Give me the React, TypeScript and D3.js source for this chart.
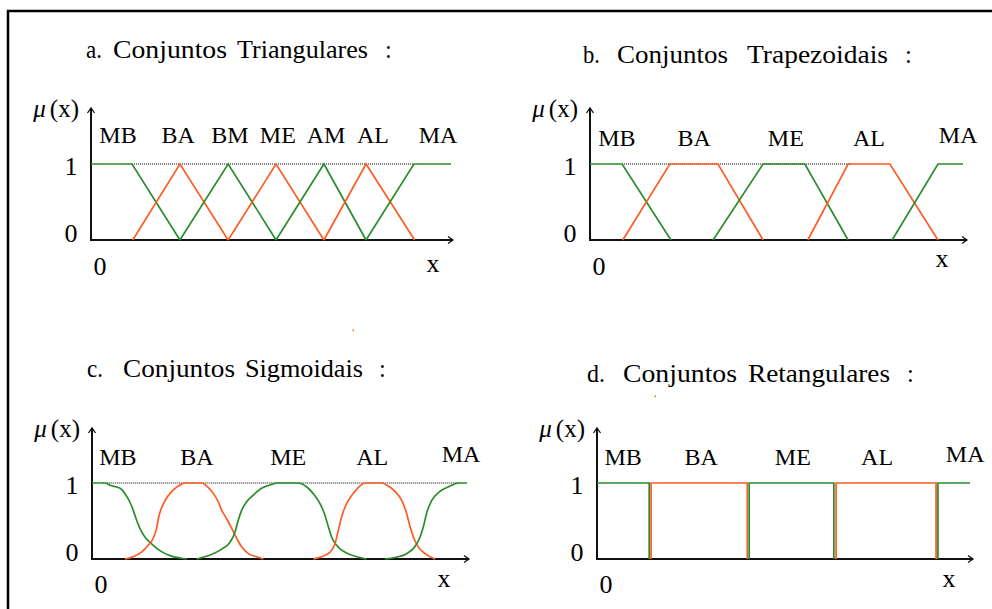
import React from 'react';
import * as d3 from 'd3';

type Pt = [number, number];

// ---------- data (x in 0..100 universe units, y = membership) ----------
const triNames = ['MB', 'BA', 'BM', 'ME', 'AM', 'AL', 'MA'];
const triLabelAt = [7.5, 24.2, 38.6, 51.9, 65.3, 78.3, 96.4];
const triMB: Pt[] = [[0, 1], [11.4, 1], [24.7, 0]];
const triBA: Pt[] = [[11.6, 0], [24.7, 1], [38.1, 0]];
const triBM: Pt[] = [[24.7, 0], [38.1, 1], [51.4, 0]];
const triME: Pt[] = [[38.1, 0], [51.4, 1], [64.7, 0]];
const triAM: Pt[] = [[51.4, 0], [64.7, 1], [76.4, 0]];
const triAL: Pt[] = [[64.7, 0], [76.4, 1], [89.9, 0]];
const triMA: Pt[] = [[76.4, 0], [89.7, 1], [100, 1]];

const trapNames = ['MB', 'BA', 'ME', 'AL', 'MA'];
const trapLabelAt = [7.2, 27.9, 52.5, 74.8, 98.7];
const trapMB: Pt[] = [[0, 1], [8.6, 1], [21.7, 0]];
const trapBA: Pt[] = [[8.8, 0], [21.4, 1], [34.3, 1], [46.4, 0]];
const trapME: Pt[] = [[33.0, 0], [46.4, 1], [57.6, 1], [69.2, 0]];
const trapAL: Pt[] = [[58.4, 0], [69.2, 1], [80.4, 1], [93.3, 0]];
const trapMA: Pt[] = [[81.0, 0], [93.3, 1], [100, 1]];

const sigNames = ['MB', 'BA', 'ME', 'AL', 'MA'];
const sigLabelAt = [6.9, 28.0, 52.3, 74.7, 98.4];
const sigMB: Pt[] = [
  [0, 1], [3.5, 1], [4.8, 0.97], [7.5, 0.93], [8.8, 0.86], [10.1, 0.75], [11.0, 0.64],
  [11.9, 0.51], [12.8, 0.4], [14.1, 0.29], [15.9, 0.2], [18.1, 0.11], [20.8, 0.045],
  [23.5, 0.013], [25.3, 0],
];
const sigBA: Pt[] = [
  [8.8, 0], [11.0, 0.03], [13.2, 0.09], [15.0, 0.18], [16.3, 0.27], [17.2, 0.4], [17.7, 0.53],
  [18.3, 0.64], [19.5, 0.77], [21.3, 0.89], [23.0, 0.96], [24.8, 1], [29.3, 1], [30.6, 0.96],
  [32.4, 0.86], [33.7, 0.75], [34.6, 0.64], [35.9, 0.53], [37.3, 0.4], [38.6, 0.27],
  [39.9, 0.16], [41.7, 0.07], [43.9, 0.03], [45.7, 0],
];
const sigME: Pt[] = [
  [27.9, 0], [30.1, 0.03], [32.3, 0.07], [34.6, 0.13], [36.8, 0.22], [38.1, 0.35], [39.0, 0.51],
  [39.9, 0.64], [41.2, 0.75], [43.0, 0.84], [45.2, 0.93], [47.9, 0.98], [49.3, 1], [55.0, 1],
  [57.2, 0.95], [59.0, 0.86], [60.8, 0.73], [62.1, 0.58], [63.0, 0.43], [63.9, 0.29],
  [65.2, 0.18], [67.5, 0.09], [70.6, 0.03], [73.2, 0],
];
const sigAL: Pt[] = [
  [59.0, 0], [61.2, 0.03], [63.5, 0.09], [64.8, 0.2], [65.7, 0.38], [66.6, 0.56], [67.9, 0.73],
  [69.3, 0.84], [71.0, 0.94], [72.8, 1], [77.2, 1], [79.0, 0.96], [80.8, 0.89], [82.6, 0.77],
  [83.9, 0.6], [84.8, 0.43], [85.7, 0.29], [87.0, 0.16], [88.8, 0.07], [91.5, 0],
];
const sigMA: Pt[] = [
  [78.1, 0], [80.8, 0.02], [83.9, 0.07], [86.1, 0.16], [87.5, 0.29], [88.4, 0.43], [89.2, 0.6],
  [90.6, 0.77], [92.8, 0.89], [95.5, 0.96], [97.7, 1], [100, 1],
];

const rectNames = ['MB', 'BA', 'ME', 'AL', 'MA'];
const rectLabelAt = [7.0, 27.9, 52.5, 75.1, 98.7];
const rectMB: Pt[] = [[0, 1], [14.0, 1], [14.0, 0]];
const rectBA: Pt[] = [[14.5, 0], [14.5, 1], [40.3, 1], [40.3, 0]];
const rectME: Pt[] = [[40.8, 0], [40.8, 1], [63.5, 1], [63.5, 0]];
const rectAL: Pt[] = [[64.1, 0], [64.1, 1], [90.9, 1], [90.9, 0]];
const rectMA: Pt[] = [[91.4, 0], [91.4, 1], [100, 1]];

const yTickLabels = ['0', '1'];

// ---------- styling ----------
const GREEN = '#2b8c2b';
const ORANGE = '#ff5b24';
const FONT = '"Liberation Serif", "Times New Roman", serif';

type Word = [string, number, number]; // text, x, width

type PanelProps = {
  ox: number; oy: number; y1: number; xEnd: number; arrowX: number; yTop: number;
  names: string[]; labelAt: number[]; sets: Pt[][];
  curve: d3.CurveFactory; dotted: [number, number] | null;
  labelBase: number; maLift: number;
  title: Word[]; titleY: number;
  xLab: [number, number]; belowZeroDy: number;
};

function Panel(p: PanelProps) {
  const x = d3.scaleLinear().domain([0, 100]).range([p.ox, p.xEnd]);
  const y = d3.scaleLinear().domain([0, 1]).range([p.oy, p.y1]);
  const line = d3.line<Pt>().x(d => x(d[0])).y(d => y(d[1])).curve(p.curve);
  return (
    <g>
      {p.title.map(([t, tx, w], i) => (
        <text key={i} x={tx} y={p.titleY} fontSize={24.5} fill="#000" fontFamily={FONT}
          {...(w > 0 ? { textLength: w, lengthAdjust: 'spacingAndGlyphs' } : {})}>{t}</text>
      ))}
      {p.dotted && (
        <line x1={x(p.dotted[0])} x2={x(p.dotted[1])} y1={y(1)} y2={y(1)}
          stroke="#000" strokeWidth={1} strokeDasharray="1,1" />
      )}
      {/* axes */}
      <path d={`M${p.ox},${p.yTop} V${p.oy} H${p.arrowX}`} fill="none" stroke="#111" strokeWidth={2} />
      <path d={`M${p.ox - 3.5},${p.yTop + 5} L${p.ox},${p.yTop} L${p.ox + 3.5},${p.yTop + 5}`} fill="none" stroke="#111" strokeWidth={1.3} />
      <path d={`M${p.arrowX - 5},${p.oy - 3.5} L${p.arrowX},${p.oy} L${p.arrowX - 5},${p.oy + 3.5}`} fill="none" stroke="#111" strokeWidth={1.3} />
      {/* sets */}
      {p.sets.map((s, i) => (
        <path key={i} d={line(s) || ''} fill="none" stroke={i % 2 === 0 ? GREEN : ORANGE} strokeWidth={1.7} strokeLinejoin="miter" />
      ))}
      {/* set labels */}
      {p.names.map((n, i) => (
        <text key={n} x={x(p.labelAt[i])} y={p.labelBase - (i === p.names.length - 1 ? p.maLift : 0)}
          fontSize={24} textAnchor="middle" fill="#000" fontFamily={FONT}>{n}</text>
      ))}
      {/* y tick labels */}
      {yTickLabels.map(t => (
        <text key={t} x={p.ox - 20} y={y(+t) + (t === '1' ? 11 : 2)} fontSize={26} textAnchor="middle" fill="#000" fontFamily={FONT}>{t}</text>
      ))}
      <text x={x(0) + 9} y={p.oy + p.belowZeroDy} fontSize={26} textAnchor="middle" fill="#000" fontFamily={FONT}>0</text>
      <text x={p.xLab[0]} y={p.xLab[1]} fontSize={26} textAnchor="middle" fill="#000" fontFamily={FONT}>x</text>
      <text x={p.ox - 12} y={p.yTop + 9} fontSize={25} textAnchor="end" fill="#000" fontFamily={FONT}>
        <tspan fontStyle="italic">μ</tspan>
        <tspan dx={4}>(x)</tspan>
      </text>
    </g>
  );
}

export default function App() {
  return (
    <svg width={992} height={609} style={{ position: 'absolute', left: 0, top: 0, background: '#fff' }}>
      <rect width={992} height={609} fill="#fff" />
      <path d="M8,609 V11 H992" fill="none" stroke="#000" strokeWidth={2.5} />
      <Panel ox={91} oy={240} y1={164} xEnd={451} arrowX={453} yTop={108}
        names={triNames} labelAt={triLabelAt}
        sets={[triMB, triBA, triBM, triME, triAM, triAL, triMA]}
        curve={d3.curveLinear} dotted={[11.4, 89.7]} labelBase={143} maLift={0}
        title={[['a.', 86, 16], ['Conjuntos', 113, 114], ['Triangulares', 237, 131], [':', 385, 0]]} titleY={58}
        xLab={[433, 272]} belowZeroDy={35} />
      <Panel ox={590} oy={240} y1={164} xEnd={963} arrowX={967} yTop={108}
        names={trapNames} labelAt={trapLabelAt}
        sets={[trapMB, trapBA, trapME, trapAL, trapMA]}
        curve={d3.curveLinear} dotted={[8.6, 70]} labelBase={146} maLift={3}
        title={[['b.', 583, 17], ['Conjuntos', 617, 111], ['Trapezoidais', 747, 141], [':', 905, 0]]} titleY={63}
        xLab={[942, 267]} belowZeroDy={35} />
      <Panel ox={92} oy={559} y1={483} xEnd={467} arrowX={469} yTop={428}
        names={sigNames} labelAt={sigLabelAt}
        sets={[sigMB, sigBA, sigME, sigAL, sigMA]}
        curve={d3.curveMonotoneX} dotted={[3, 98]} labelBase={465} maLift={3}
        title={[['c.', 87, 16], ['Conjuntos', 123, 112], ['Sigmoidais', 245, 118], [':', 379, 0]]} titleY={377}
        xLab={[444, 587]} belowZeroDy={34} />
      <Panel ox={597} oy={559} y1={483} xEnd={970} arrowX={973} yTop={428}
        names={rectNames} labelAt={rectLabelAt}
        sets={[rectMB, rectBA, rectME, rectAL, rectMA]}
        curve={d3.curveLinear} dotted={null} labelBase={465} maLift={3}
        title={[['d.', 587, 18], ['Conjuntos', 623, 114], ['Retangulares', 748, 142], [':', 907, 0]]} titleY={382}
        xLab={[949, 587]} belowZeroDy={34} />
      <rect x={352.5} y={329.5} width={1.5} height={1.5} fill={ORANGE} />
      <rect x={654.5} y={395.5} width={1.5} height={1.5} fill={ORANGE} />
    </svg>
  );
}
